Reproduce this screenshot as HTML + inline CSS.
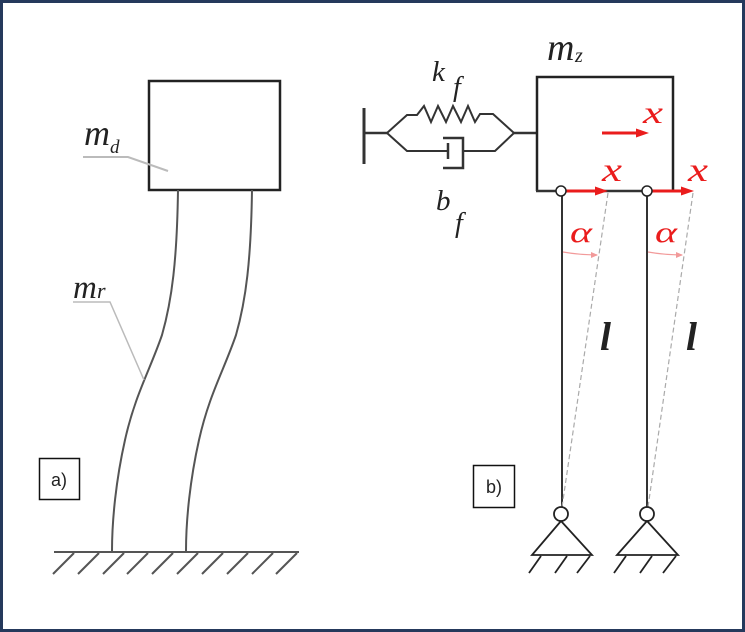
<!DOCTYPE html>
<html><head><meta charset="utf-8"><style>
html,body{margin:0;padding:0;background:#fff;}
svg{display:block;}
text{font-family:"Liberation Serif",serif;font-style:italic;}
</style></head><body>
<svg width="745" height="632" viewBox="0 0 745 632" xmlns="http://www.w3.org/2000/svg">
<rect x="0" y="0" width="745" height="632" fill="#fff"/>
<rect x="1.5" y="1.5" width="742" height="629" fill="none" stroke="#25395c" stroke-width="3"/>

<!-- Panel a -->
<rect x="149" y="81" width="131" height="109" fill="none" stroke="#222" stroke-width="2.5"/>
<path d="M178,190 C177,260 172,300 162,335 C150,370 135,395 125,440 C116,480 112,520 112,551" fill="none" stroke="#555" stroke-width="2"/>
<path d="M252,190 C251,260 246,300 236,335 C224,370 209,395 199,440 C190,480 186,520 186,551" fill="none" stroke="#555" stroke-width="2"/>
<line x1="54" y1="552" x2="299" y2="552" stroke="#555" stroke-width="2"/>
<g stroke="#555" stroke-width="2">
<line x1="74" y1="553" x2="53" y2="574"/>
<line x1="99" y1="553" x2="78" y2="574"/>
<line x1="124" y1="553" x2="103" y2="574"/>
<line x1="148" y1="553" x2="127" y2="574"/>
<line x1="173" y1="553" x2="152" y2="574"/>
<line x1="198" y1="553" x2="177" y2="574"/>
<line x1="223" y1="553" x2="202" y2="574"/>
<line x1="248" y1="553" x2="227" y2="574"/>
<line x1="273" y1="553" x2="252" y2="574"/>
<line x1="297" y1="553" x2="276" y2="574"/>
</g>
<polyline points="83,157 128,157 168,171" fill="none" stroke="#bbb" stroke-width="2"/>
<polyline points="73,302 110,302 144,380" fill="none" stroke="#bbb" stroke-width="1.5"/>
<text x="84" y="145" font-size="36" fill="#222">m</text>
<text x="110" y="153" font-size="19" fill="#222">d</text>
<text x="73" y="298" font-size="33" fill="#222">m</text>
<text x="97" y="298" font-size="22" fill="#222">r</text>
<rect x="39.5" y="458.5" width="40" height="41" fill="none" stroke="#111" stroke-width="1.5"/>
<text x="59" y="486" font-size="18" text-anchor="middle" style="font-family:'Liberation Sans',sans-serif;font-style:normal" fill="#222">a)</text>

<!-- Panel b -->
<line x1="364" y1="108" x2="364" y2="164" stroke="#333" stroke-width="3"/>
<line x1="364" y1="133" x2="387" y2="133" stroke="#333" stroke-width="2.5"/>
<polyline points="387,133 407,115 417,115 424,106 431,122 438,106 446,122 453,106 461,122 468,106 475,122 480,114 493,114 514,133" fill="none" stroke="#333" stroke-width="2" stroke-linejoin="miter"/>
<polyline points="387,133 407,151 448,151" fill="none" stroke="#333" stroke-width="2"/>
<line x1="448" y1="143" x2="448" y2="159" stroke="#333" stroke-width="2.5"/>
<polyline points="443,138 463,138 463,168 443,168" fill="none" stroke="#333" stroke-width="2.5"/>
<polyline points="463,151 495,151 514,133" fill="none" stroke="#333" stroke-width="2"/>
<line x1="514" y1="133" x2="537" y2="133" stroke="#333" stroke-width="2.5"/>

<path d="M537,191 L537,77 L673,77 L673,191" fill="none" stroke="#222" stroke-width="2.5"/>
<line x1="536" y1="191" x2="674" y2="191" stroke="#333" stroke-width="2.5"/>

<!-- rods -->
<line x1="562" y1="196" x2="562" y2="507" stroke="#333" stroke-width="2"/>
<line x1="647" y1="196" x2="647" y2="507" stroke="#333" stroke-width="2"/>
<!-- dashed -->
<line x1="608" y1="193" x2="562" y2="507" stroke="#aaa" stroke-width="1.2" stroke-dasharray="5,3"/>
<line x1="693" y1="193" x2="648" y2="507" stroke="#aaa" stroke-width="1.2" stroke-dasharray="5,3"/>

<!-- red arrows -->
<g fill="#ea1c1c" stroke="none">
<rect x="565" y="189.5" width="32" height="3"/>
<polygon points="608,191 595,186.5 595,195.5"/>
<rect x="651" y="189.5" width="32" height="3"/>
<polygon points="694,191 681,186.5 681,195.5"/>
<rect x="602" y="131.5" width="36" height="3"/>
<polygon points="649,133 636,128.5 636,137.5"/>
</g>
<g stroke="#f29a9a" stroke-width="1.2" fill="none">
<path d="M563,252 Q580,255 597,255"/>
<path d="M648,252 Q665,255 682,255"/>
</g>
<g fill="#f29a9a">
<polygon points="598,255 591,252 591,258"/>
<polygon points="683,255 676,252 676,258"/>
</g>

<!-- top pivots -->
<circle cx="561" cy="191" r="5" fill="#fff" stroke="#222" stroke-width="1.5"/>
<circle cx="647" cy="191" r="5" fill="#fff" stroke="#222" stroke-width="1.5"/>

<!-- bottom supports -->
<g stroke="#222" stroke-width="1.8" fill="none">
<polygon points="561,521 532,555 592,555"/>
<circle cx="561" cy="514" r="7" fill="#fff"/>
<line x1="541" y1="556" x2="529" y2="573"/>
<line x1="567" y1="556" x2="555" y2="573"/>
<line x1="590" y1="556" x2="577" y2="573"/>
<polygon points="647,521 617,555 678,555"/>
<circle cx="647" cy="514" r="7" fill="#fff"/>
<line x1="626" y1="556" x2="614" y2="573"/>
<line x1="652" y1="556" x2="640" y2="573"/>
<line x1="676" y1="556" x2="663" y2="573"/>
</g>

<!-- labels b -->
<text x="547" y="60" font-size="38" fill="#222">m</text>
<text x="575" y="62" font-size="20" fill="#222">z</text>
<text x="432" y="81" font-size="29" fill="#222">k</text>
<text x="453" y="96" font-size="28" fill="#222">f</text>
<text x="436" y="210" font-size="29" fill="#222">b</text>
<text x="455" y="232" font-size="28" fill="#222">f</text>
<text x="643" y="123" font-size="32" fill="#ea1c1c" textLength="20" lengthAdjust="spacingAndGlyphs">x</text>
<text x="602" y="181" font-size="34" fill="#ea1c1c" textLength="20" lengthAdjust="spacingAndGlyphs">x</text>
<text x="688" y="181" font-size="34" fill="#ea1c1c" textLength="20" lengthAdjust="spacingAndGlyphs">x</text>
<text x="570" y="242" font-size="30" fill="#ea1c1c" textLength="22" lengthAdjust="spacingAndGlyphs">α</text>
<text x="655" y="242" font-size="30" fill="#ea1c1c" textLength="22" lengthAdjust="spacingAndGlyphs">α</text>
<text x="600" y="350" font-size="40" font-weight="bold" fill="#222" textLength="11" lengthAdjust="spacingAndGlyphs">l</text>
<text x="686" y="350" font-size="40" font-weight="bold" fill="#222" textLength="11" lengthAdjust="spacingAndGlyphs">l</text>

<rect x="473.5" y="465.5" width="41" height="42" fill="none" stroke="#111" stroke-width="1.5"/>
<text x="494" y="493" font-size="18" text-anchor="middle" style="font-family:'Liberation Sans',sans-serif;font-style:normal" fill="#222">b)</text>
</svg>
</body></html>
